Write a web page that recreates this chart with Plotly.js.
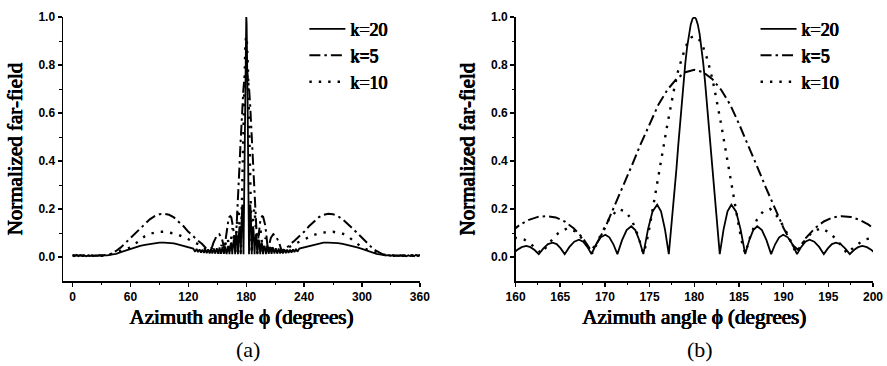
<!DOCTYPE html>
<html>
<head>
<meta charset="utf-8">
<script src="https://cdn.plot.ly/plotly-3.0.1.min.js"></script>
<style>html,body{margin:0;padding:0;background:#fff;}#chart{width:887px;height:366px;}</style>
</head>
<body>
<div id="chart"></div>
<script>
// Series names
const seriesNames = ["k=20", "k=5", "k=10"];
const panelLabels = ["(a)", "(b)"];
const xTitle = "Azimuth angle \u03D5 (degrees)";
const yTitle = "Normalized far-field";

// k=20 (solid)
const phi20 = [
  0,2,4,6,8,10,12,14,16,18,20,22,24,26,28,30,33,36,40,
  45,50,55,60,65,70,75,80,85,90,95,100,105,110,115,120,125,
  127,128.5,130,131.5,133.1,134.6,136.1,137.6,139.0,140.5,142.0,143.5,144.9,146.4,147.9,149.4,150.8,152.3,153.8,155.3,156.7,158.2,
  159.65,160.17,160.68,161.2,161.67,162.13,
  162.6,163.12,163.63,164.15,164.6,165.05,
  165.5,166.03,166.57,167.1,167.57,168.03,
  168.5,169.02,169.53,170.05,170.5,170.95,
  171.4,171.92,172.43,172.95,173.4,173.85,
  174.3,174.82,175.33,175.85,176.28,176.72,
  177.15,177.25,177.4,177.6,177.8,178.0,178.2,178.4,178.6,178.8,179.0,179.2,179.4,179.6,179.8,180,
  180.2,180.4,180.6,180.8,181.0,181.2,181.4,181.6,181.8,182.0,182.2,182.4,182.6,182.75,
  182.85,183.28,183.72,184.15,184.67,185.18,
  185.7,186.15,186.6,187.05,187.57,188.08,
  188.6,189.05,189.5,189.95,190.47,190.98,
  191.5,191.97,192.43,192.9,193.43,193.97,
  194.5,194.95,195.4,195.85,196.37,196.88,
  197.4,197.87,198.33,198.8,199.32,199.83,
  200.35,201.8,203.3,204.7,206.2,207.7,209.2,210.6,212.1,213.6,215.1,216.5,218.0,219.5,221.0,222.4,223.9,225.4,226.9,228.5,230.0,231.5,233.0,
  235,240,245,250,255,260,265,270,275,280,285,290,295,300,305,310,315,
  320,324,327,330,332,334,336,338,340,342,344,346,348,350,352,354,356,358,360
];
const ff20 = [
  0.010,0.004,0.009,0.003,0.008,0.004,0.007,0.003,0.006,0.004,0.007,0.004,0.006,0.005,0.008,0.005,0.008,0.007,0.010,
  0.013,0.020,0.027,0.034,0.040,0.046,0.051,0.055,0.058,0.060,0.060,0.060,0.057,0.052,0.046,0.040,0.035,
  0.022,0.034,0.020,0.032,0.018,0.031,0.017,0.031,0.016,0.032,0.015,0.033,0.015,0.035,0.014,0.037,0.014,0.040,0.013,0.042,0.013,0.044,
  0.012,0.029,0.041,0.046,0.041,0.029,
  0.012,0.036,0.054,0.060,0.054,0.036,
  0.012,0.042,0.064,0.072,0.064,0.042,
  0.012,0.053,0.082,0.093,0.082,0.053,
  0.012,0.070,0.112,0.128,0.112,0.070,
  0.012,0.115,0.190,0.218,0.190,0.115,
  0.012,0.05,0.11,0.19,0.275,0.365,0.462,0.556,0.648,0.733,0.809,0.875,0.929,0.968,0.992,1.0,
  0.992,0.968,0.929,0.875,0.809,0.733,0.648,0.556,0.462,0.365,0.275,0.19,0.11,0.05,
  0.012,0.115,0.190,0.218,0.190,0.115,
  0.012,0.070,0.112,0.128,0.112,0.070,
  0.012,0.053,0.082,0.093,0.082,0.053,
  0.012,0.042,0.064,0.072,0.064,0.042,
  0.012,0.036,0.054,0.060,0.054,0.036,
  0.012,0.029,0.041,0.046,0.041,0.029,
  0.012,0.044,0.013,0.042,0.013,0.040,0.014,0.037,0.014,0.035,0.015,0.033,0.015,0.032,0.016,0.031,0.017,0.031,0.018,0.032,0.020,0.034,0.022,
  0.035,0.040,0.046,0.052,0.057,0.060,0.060,0.060,0.058,0.055,0.051,0.046,0.040,0.034,0.027,0.020,0.013,
  0.010,0.007,0.008,0.005,0.008,0.005,0.006,0.004,0.007,0.004,0.006,0.003,0.007,0.004,0.008,0.003,0.009,0.004,0.010
];

// k=5 (dash-dot)
const phi5 = [
  0,10,20,30,38,
  45,50,55,60,65,70,75,80,85,90,95,100,105,110,115,120,125,130,
  134,138,141,143,146,149,152,154.5,156,157.6,
  158.5,159.5,160.5,161.5,162.5,163.5,164.5,165.5,166.5,167.5,168.4,
  169,170,171,172,173,174,175,176,177,178,179,180,181,182,183,184,185,186,187,188,189,190,191,191.6,
  192.5,193.5,194.5,195.5,196.5,197.5,198.5,199.5,200.5,201.5,202.4,
  204,205.5,208,211,214,217,219,222,226,
  230,235,240,245,250,255,260,265,270,275,280,285,290,295,300,305,310,315,
  322,330,340,350,360
];
const ff5 = [
  0.006,0.005,0.005,0.006,0.010,
  0.025,0.040,0.060,0.080,0.100,0.120,0.140,0.157,0.170,0.178,0.180,0.176,0.165,0.148,0.128,0.105,0.085,0.068,
  0.055,0.040,0.025,0.022,0.060,0.085,0.095,0.080,0.055,0.030,
  0.070,0.105,0.135,0.155,0.167,0.170,0.165,0.148,0.120,0.080,0.030,
  0.050,0.120,0.205,0.290,0.380,0.470,0.555,0.636,0.697,0.742,0.770,0.780,0.770,0.742,0.697,0.636,0.555,0.470,0.380,0.290,0.205,0.120,0.050,0.030,
  0.080,0.120,0.148,0.165,0.170,0.167,0.155,0.135,0.105,0.070,0.030,
  0.055,0.080,0.095,0.085,0.060,0.022,0.025,0.040,0.055,
  0.068,0.085,0.105,0.128,0.148,0.165,0.176,0.180,0.178,0.170,0.157,0.140,0.120,0.100,0.080,0.060,0.040,0.025,
  0.010,0.006,0.005,0.005,0.006
];

// k=10 (dotted)
const phi10 = [
  0,10,20,30,38,42,
  50,55,60,65,70,75,80,85,90,95,100,105,110,115,120,125,130,
  134,137,140,143,146,149,151.5,154.5,157.2,
  158.2,159.1,160,161,162,162.9,
  163.8,164.8,165.8,166.8,167.7,168.6,
  169.5,170.5,171.5,172.3,173.0,173.7,174.3,
  174.6,175.0,175.4,175.8,176.2,176.6,177.0,177.4,177.8,178.2,178.6,179.0,179.4,179.7,180,
  180.3,180.6,181.0,181.4,181.8,182.2,182.6,183.0,183.4,183.8,184.2,184.6,185.0,185.4,
  185.7,186.3,187.0,187.7,188.5,189.5,190.5,191.4,
  192.3,193.2,194.2,195.2,196.2,197.1,
  198.0,199.0,200.0,200.9,201.8,202.8,
  205.5,208.5,211,214,217,220,223,226,
  230,235,240,245,250,255,260,265,270,275,280,285,290,295,300,305,310,
  318,322,330,340,350,360
];
const ff10 = [
  0.005,0.004,0.004,0.005,0.010,0.015,
  0.025,0.032,0.040,0.055,0.072,0.087,0.097,0.102,0.105,0.105,0.103,0.098,0.092,0.084,0.074,0.064,0.054,
  0.045,0.035,0.022,0.035,0.040,0.030,0.015,0.050,0.015,
  0.050,0.072,0.080,0.072,0.045,0.015,
  0.060,0.100,0.120,0.105,0.065,0.015,
  0.090,0.160,0.200,0.190,0.155,0.090,0.015,
  0.051,0.125,0.207,0.292,0.380,0.468,0.554,0.636,0.711,0.777,0.831,0.874,0.903,0.916,0.920,
  0.916,0.903,0.874,0.831,0.777,0.711,0.636,0.554,0.468,0.380,0.292,0.207,0.125,0.051,
  0.015,0.090,0.155,0.190,0.200,0.160,0.090,0.015,
  0.065,0.105,0.120,0.100,0.060,0.015,
  0.045,0.072,0.080,0.072,0.050,0.015,
  0.050,0.015,0.030,0.040,0.035,0.022,0.035,0.045,
  0.054,0.064,0.074,0.084,0.092,0.098,0.103,0.105,0.105,0.102,0.097,0.087,0.072,0.055,0.040,0.032,0.025,
  0.015,0.010,0.005,0.004,0.004,0.005
];

const yTicks = [0, 0.2, 0.4, 0.6, 0.8, 1.0];
const xTicksA = [0, 60, 120, 180, 240, 300, 360];
const xTicksB = [160, 165, 170, 175, 180, 185, 190, 195, 200];

const styles = [
  {color: "#000", width: 1.8, dash: "solid"},
  {color: "#000", width: 2, dash: "11px,4px,2.5px,4px"},
  {color: "#000", width: 2.4, dash: "2.4px,7px"}
];
const xs = [phi20, phi5, phi10];
const ys = [ff20, ff5, ff10];

const traces = [];
[["x", "y", "legend"], ["x2", "y2", "legend2"]].forEach(function (ax) {
  for (let i = 0; i < 3; i++) {
    traces.push({
      type: "scatter", mode: "lines",
      x: xs[i], y: ys[i],
      name: seriesNames[i],
      line: styles[i],
      xaxis: ax[0], yaxis: ax[1], legend: ax[2],
      hoverinfo: "skip"
    });
  }
});

// Serif bold face is not installed: emulate the heavy serif with a thin text shadow
const SERIF = "Liberation Serif";
const HEAVY = "0.5px 0 0 #000, -0.5px 0 0 #000, 0 0.3px 0 #000";
const tickFont = {family: "Liberation Sans", size: 12, color: "#000", weight: 700};
const titleFont = {family: SERIF, size: 21, color: "#000", shadow: HEAVY};
const legendFont = {family: SERIF, size: 18, color: "#000", shadow: HEAVY};

function yAxis(anchor) {
  return {
    anchor: anchor, range: [-0.1, 1.0], tickvals: yTicks, tickformat: ".1f",
    showline: true, linecolor: "#000", linewidth: 1.5,
    ticks: "outside", ticklen: 4, tickwidth: 1.5, tickcolor: "#000",
    minor: {tickvals: [0.1, 0.3, 0.5, 0.7, 0.9], ticks: "outside", ticklen: 2.5, tickwidth: 1, tickcolor: "#000"},
    showgrid: false, zeroline: false, tickfont: tickFont,
    title: {text: yTitle, font: titleFont, standoff: 10}
  };
}
function xAxis(anchor, domain, range, tickvals, minorDtick) {
  return {
    anchor: anchor, domain: domain, range: range, tickvals: tickvals,
    showline: true, linecolor: "#000", linewidth: 1.5,
    ticks: "outside", ticklen: 4, tickwidth: 1.5, tickcolor: "#000",
    minor: {dtick: minorDtick, ticks: "outside", ticklen: 2.5, tickwidth: 1, tickcolor: "#000"},
    showgrid: false, zeroline: false, tickfont: tickFont,
    title: {text: xTitle, font: titleFont, standoff: 6}
  };
}

const layout = {
  width: 887, height: 366,
  margin: {l: 63, r: 14, t: 16, b: 85},
  paper_bgcolor: "#fff", plot_bgcolor: "#fff",
  showlegend: true,
  xaxis: xAxis("y", [0, 0.4406], [-10, 360], xTicksA, 30),
  yaxis: yAxis("x"),
  xaxis2: xAxis("y2", [0.5587, 1], [160, 200], xTicksB, 2.5),
  yaxis2: yAxis("x2"),
  legend: {x: 0.298, y: 1.02, xanchor: "left", yanchor: "top", bgcolor: "rgba(0,0,0,0)", font: legendFont, tracegroupgap: 0, itemwidth: 36},
  legend2: {x: 0.855, y: 1.02, xanchor: "left", yanchor: "top", bgcolor: "rgba(0,0,0,0)", font: legendFont, tracegroupgap: 0, itemwidth: 36},
  annotations: [
    {text: panelLabels[0], xref: "paper", yref: "paper", x: 0.2283, y: -0.26, xanchor: "center", yanchor: "middle", showarrow: false,
     font: {family: SERIF, size: 22, color: "#000"}},
    {text: panelLabels[1], xref: "paper", yref: "paper", x: 0.7862, y: -0.26, xanchor: "center", yanchor: "middle", showarrow: false,
     font: {family: SERIF, size: 22, color: "#000"}}
  ]
};

Plotly.newPlot("chart", traces, layout, {staticPlot: true, displayModeBar: false});
</script>
</body>
</html>
